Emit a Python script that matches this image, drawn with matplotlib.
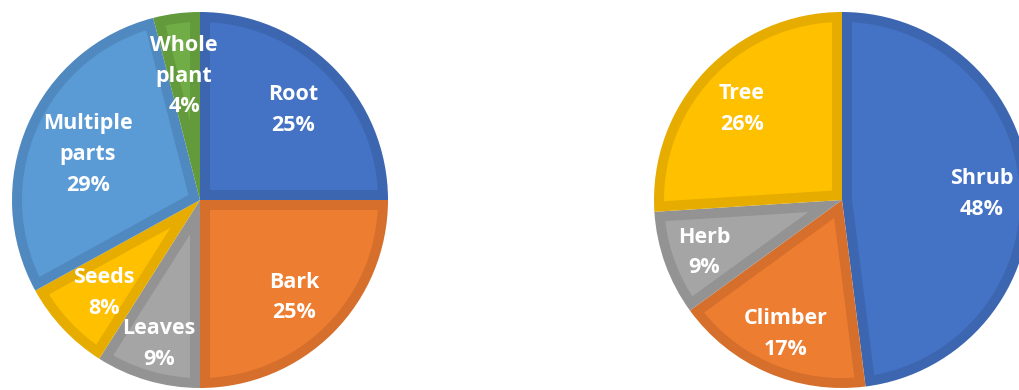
import numpy as np
import matplotlib
matplotlib.use("Agg")
import matplotlib.pyplot as plt
from matplotlib.patches import Polygon

# ---- data ----
part_labels = ["Root", "Bark", "Leaves", "Seeds", "Multiple\nparts", "Whole\nplant"]
part_values = [25, 25, 9, 8, 29, 4]

habit_labels = ["Shrub", "Climber", "Herb", "Tree"]
habit_values = [48, 17, 9, 26]

# office palette: fill / darker inner border
part_fill = ["#4472C4", "#ED7D31", "#A5A5A5", "#FFC000", "#5B9BD5", "#70AD47"]
part_edge = ["#3D66B1", "#D66F2B", "#939393", "#E6AC00", "#5089C0", "#629A3C"]
habit_fill = ["#4472C4", "#ED7D31", "#A5A5A5", "#FFC000"]
habit_edge = ["#3D66B1", "#D66F2B", "#939393", "#E6AC00"]

# radial position of each label (fraction of radius)
part_lbl_r = [0.70, 0.71, 0.78, 0.70, 0.65, 0.68]
habit_lbl_r = [0.745, 0.76, 0.78, 0.73]

W, H = 1019, 390
fig = plt.figure(figsize=(W / 100, H / 100), dpi=100)
ax = fig.add_axes([0, 0, 1, 1])

R = 188
BORDER = 10  # px, inner darker band


def inset_poly(w, d):
    # wedge shrunk inward by d on all sides (slices < 180 deg)
    cx, cy = w.center
    t1, t2 = np.deg2rad(w.theta1), np.deg2rad(w.theta2)
    half = (t2 - t1) / 2
    mid = (t1 + t2) / 2
    apex = d / np.sin(half)
    da = np.arcsin(d / (w.r - d))
    arc = np.linspace(t1 + da, t2 - da, 80)
    xs = np.r_[cx + apex * np.cos(mid), cx + (w.r - d) * np.cos(arc)]
    ys = np.r_[cy + apex * np.sin(mid), cy + (w.r - d) * np.sin(arc)]
    return np.column_stack([xs, ys])


def draw_pie(values, labels, fills, edges, lbl_r, center):
    wedges, _ = ax.pie(values, colors=edges, startangle=90, counterclock=False,
                       center=center, radius=R, frame=True,
                       wedgeprops=dict(linewidth=0))
    for w, fc, lr, lab, v in zip(wedges, fills, lbl_r, labels, values):
        ax.add_patch(Polygon(inset_poly(w, BORDER), closed=True, fc=fc, lw=0))
        mid = np.deg2rad((w.theta1 + w.theta2) / 2)
        x = center[0] + lr * R * np.cos(mid)
        y = center[1] + lr * R * np.sin(mid) - 3
        ax.text(x, y, f"{lab}\n{v}%", ha="center", va="center", color="white",
                fontsize=15.5, fontweight="bold", family=["Open Sans", "DejaVu Sans"],
                linespacing=1.6, zorder=5)


draw_pie(part_values, part_labels, part_fill, part_edge, part_lbl_r, (200, 190))
draw_pie(habit_values, habit_labels, habit_fill, habit_edge, habit_lbl_r, (842, 190))

ax.set_xlim(0, W)
ax.set_ylim(0, H)
ax.set_aspect("auto")
ax.axis("off")

fig.savefig("out.png", dpi=100, facecolor="white")
